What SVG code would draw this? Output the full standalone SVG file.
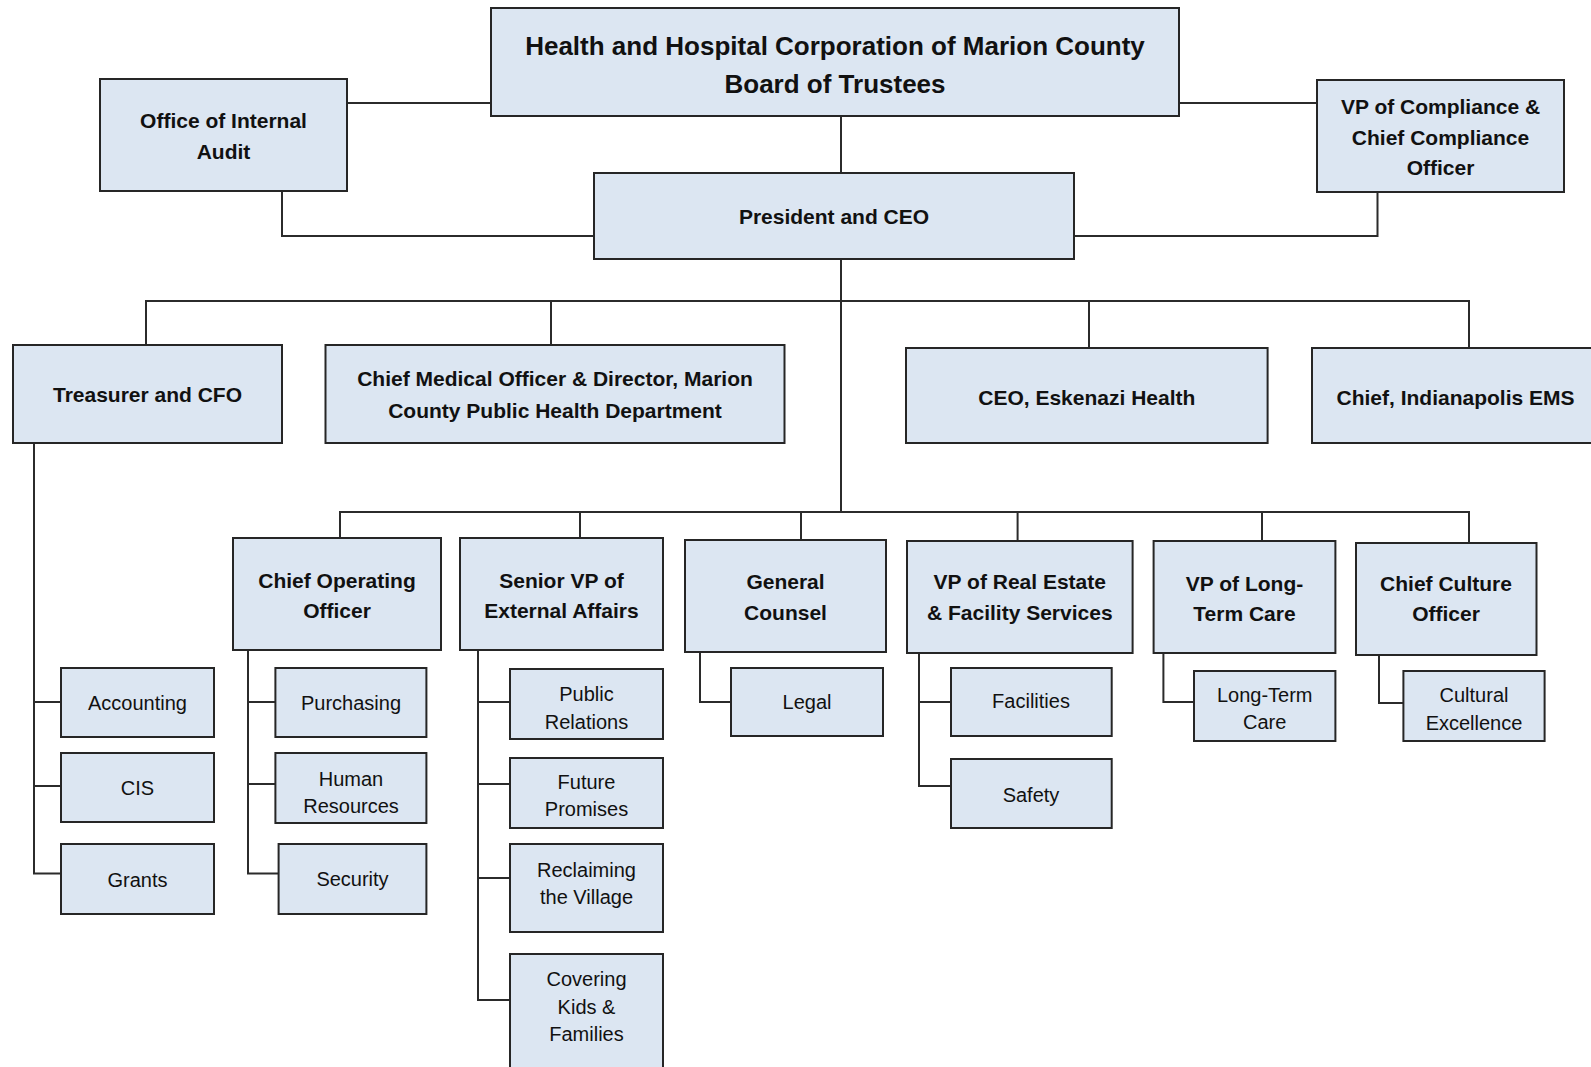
<svg xmlns="http://www.w3.org/2000/svg" width="1591" height="1067" viewBox="0 0 1591 1067">
<style>
.box{fill:#dce6f2;stroke:#262626;stroke-width:2}
.c{fill:none;stroke:#2b2b2b;stroke-width:2}
.t{font-family:"Liberation Sans",Arial,sans-serif;text-anchor:middle;fill:#111}
.b{font-weight:bold;font-size:21px}
.r{font-size:20px}
.h{font-weight:bold;font-size:26px}
</style>
<rect width="1591" height="1067" fill="#fff"/>
<g id="connectors">
<path class="c" d="M347,103 H491"/>
<path class="c" d="M1179,103 H1317"/>
<path class="c" d="M841,116 V173"/>
<path class="c" d="M282,191 V236 H594"/>
<path class="c" d="M1377.5,192 V236 H1074"/>
<path class="c" d="M841,259 V513"/>
<path class="c" d="M146,345 V301 H1469 V348"/>
<path class="c" d="M551,302 V345"/>
<path class="c" d="M1089,302 V348"/>
<path class="c" d="M34,443 V873.5 H61 M34,702 H61 M34,786 H61"/>
<path class="c" d="M340,538 V512 H1469 V543"/>
<path class="c" d="M580,512 V538"/>
<path class="c" d="M801,512 V540"/>
<path class="c" d="M1017.6,512 V541"/>
<path class="c" d="M1262,512 V541"/>
<path class="c" d="M248,650 V873.5 H278.6 M248,702 H275.4 M248,784 H275.4"/>
<path class="c" d="M478,650 V1000 H510 M478,702 H510 M478,784 H510 M478,878 H510"/>
<path class="c" d="M700,652 V702 H731"/>
<path class="c" d="M919,653 V786 H951 M919,702 H951"/>
<path class="c" d="M1163.4,653 V702 H1194"/>
<path class="c" d="M1379,655 V703 H1403.4"/>
</g>
<g id="board"><rect class="box" x="491" y="8" width="688" height="108"/>
<text class="t h" x="835" y="55">Health and Hospital Corporation of Marion County</text>
<text class="t h" x="835" y="92.5">Board of Trustees</text></g>
<g id="audit"><rect class="box" x="100" y="79" width="247" height="112"/>
<text class="t b" x="223.5" y="128">Office of Internal</text>
<text class="t b" x="223.5" y="158.5">Audit</text></g>
<g id="compliance"><rect class="box" x="1317" y="80" width="247" height="112"/>
<text class="t b" x="1440.5" y="114">VP of Compliance &amp;</text>
<text class="t b" x="1440.5" y="144.5">Chief Compliance</text>
<text class="t b" x="1440.5" y="175">Officer</text></g>
<g id="president"><rect class="box" x="594" y="173" width="480" height="86"/>
<text class="t b" x="834" y="223.5">President and CEO</text></g>
<g id="treasurer"><rect class="box" x="13" y="345" width="269" height="98"/>
<text class="t b" x="147.5" y="402">Treasurer and CFO</text></g>
<g id="cmo"><rect class="box" x="325.5" y="345" width="459" height="98"/>
<text class="t b" x="555" y="386">Chief Medical Officer &amp; Director, Marion</text>
<text class="t b" x="555" y="417.5">County Public Health Department</text></g>
<g id="eskenazi"><rect class="box" x="906" y="348" width="361.6" height="95"/>
<text class="t b" x="1086.8" y="405">CEO, Eskenazi Health</text></g>
<g id="ems"><rect class="box" x="1312" y="348" width="287" height="95"/>
<text class="t b" x="1455.5" y="405">Chief, Indianapolis EMS</text></g>
<g id="coo"><rect class="box" x="233" y="538" width="208" height="112"/>
<text class="t b" x="337" y="588">Chief Operating</text>
<text class="t b" x="337" y="618">Officer</text></g>
<g id="svp"><rect class="box" x="460" y="538" width="203" height="112"/>
<text class="t b" x="561.5" y="588">Senior VP of</text>
<text class="t b" x="561.5" y="618">External Affairs</text></g>
<g id="counsel"><rect class="box" x="685" y="540" width="201" height="112"/>
<text class="t b" x="785.5" y="589">General</text>
<text class="t b" x="785.5" y="620">Counsel</text></g>
<g id="realestate"><rect class="box" x="907" y="541" width="225.6" height="112"/>
<text class="t b" x="1019.8" y="589">VP of Real Estate</text>
<text class="t b" x="1019.8" y="620">&amp; Facility Services</text></g>
<g id="longterm"><rect class="box" x="1153.6" y="541" width="181.8" height="112"/>
<text class="t b" x="1244.5" y="591">VP of Long-</text>
<text class="t b" x="1244.5" y="621">Term Care</text></g>
<g id="culture"><rect class="box" x="1356" y="543" width="180.5" height="112"/>
<text class="t b" x="1446" y="591">Chief Culture</text>
<text class="t b" x="1446" y="621">Officer</text></g>
<g id="accounting"><rect class="box" x="61" y="668" width="153" height="69"/>
<text class="t r" x="137.5" y="710">Accounting</text></g>
<g id="cis"><rect class="box" x="61" y="753" width="153" height="69"/>
<text class="t r" x="137.5" y="794.5">CIS</text></g>
<g id="grants"><rect class="box" x="61" y="844" width="153" height="70"/>
<text class="t r" x="137.5" y="886.5">Grants</text></g>
<g id="purchasing"><rect class="box" x="275.4" y="668" width="151" height="69"/>
<text class="t r" x="351" y="710">Purchasing</text></g>
<g id="hr"><rect class="box" x="275.4" y="753" width="151" height="70"/>
<text class="t r" x="351" y="785.5">Human</text>
<text class="t r" x="351" y="812.5">Resources</text></g>
<g id="security"><rect class="box" x="278.6" y="844" width="147.8" height="70"/>
<text class="t r" x="352.5" y="885.5">Security</text></g>
<g id="pr"><rect class="box" x="510" y="669" width="153" height="70"/>
<text class="t r" x="586.5" y="701">Public</text>
<text class="t r" x="586.5" y="728.5">Relations</text></g>
<g id="future"><rect class="box" x="510" y="758" width="153" height="70"/>
<text class="t r" x="586.5" y="788.5">Future</text>
<text class="t r" x="586.5" y="815.5">Promises</text></g>
<g id="village"><rect class="box" x="510" y="844" width="153" height="88"/>
<text class="t r" x="586.5" y="876.5">Reclaiming</text>
<text class="t r" x="586.5" y="904">the Village</text></g>
<g id="kids"><rect class="box" x="510" y="954" width="153" height="125"/>
<text class="t r" x="586.5" y="986">Covering</text>
<text class="t r" x="586.5" y="1013.5">Kids &amp;</text>
<text class="t r" x="586.5" y="1041">Families</text></g>
<g id="legal"><rect class="box" x="731" y="668" width="152" height="68"/>
<text class="t r" x="807" y="709">Legal</text></g>
<g id="facilities"><rect class="box" x="951" y="668" width="160.7" height="68"/>
<text class="t r" x="1031" y="708">Facilities</text></g>
<g id="safety"><rect class="box" x="951" y="759" width="160.7" height="69"/>
<text class="t r" x="1031" y="801.5">Safety</text></g>
<g id="ltc"><rect class="box" x="1194" y="671" width="141.4" height="70"/>
<text class="t r" x="1264.7" y="702">Long-Term</text>
<text class="t r" x="1264.7" y="728.5">Care</text></g>
<g id="cultural"><rect class="box" x="1403.4" y="671" width="141.2" height="70"/>
<text class="t r" x="1474" y="702">Cultural</text>
<text class="t r" x="1474" y="729.5">Excellence</text></g>
</svg>
